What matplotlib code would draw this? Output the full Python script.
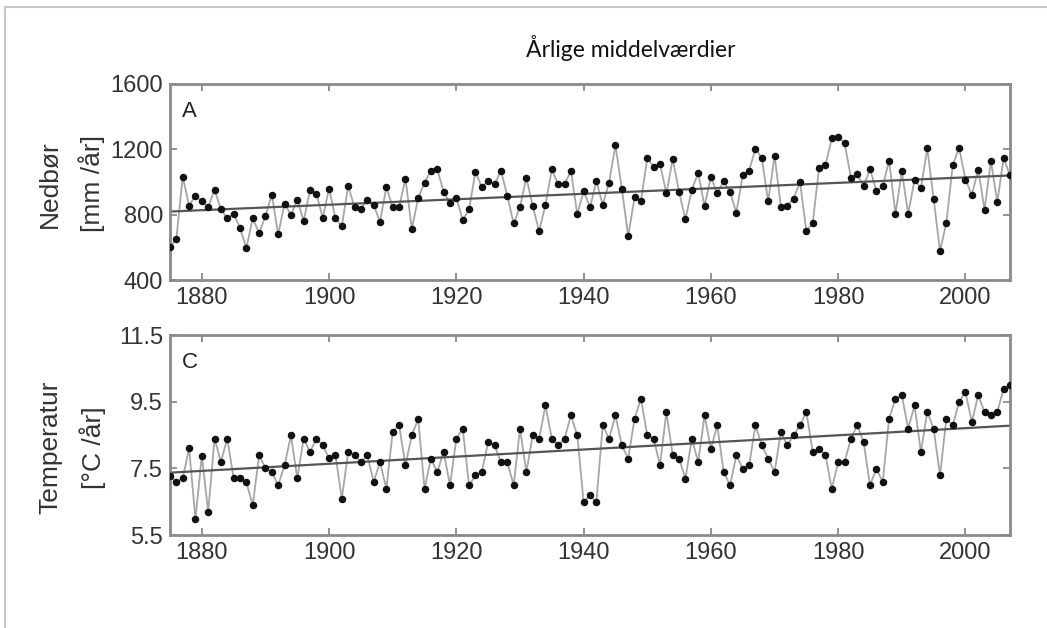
import numpy as np
import matplotlib
matplotlib.use("Agg")
import matplotlib.pyplot as plt
from matplotlib.lines import Line2D

years = list(range(1875, 2008))

precip = [
    600, 652, 1033, 856, 917, 881, 846, 952, 833, 777,
    804, 721, 596, 777, 687, 792, 923, 679, 867, 798,
    892, 762, 950, 929, 781, 960, 777, 731, 975, 846,
    835, 892, 860, 756, 969, 844, 844, 1021, 712, 902,
    996, 1069, 1077, 940, 869, 902, 767, 833, 1063, 969,
    1006, 985, 1069, 917, 746, 846, 1027, 854, 698, 860,
    1077, 985, 985, 1067, 804, 944, 844, 1006, 860, 996,
    1225, 960, 669, 906, 881, 1146, 1094, 1110, 931, 1140,
    938, 771, 954, 1054, 852, 1031, 931, 1006, 938, 813,
    1042, 1069, 1204, 1146, 881, 1162, 850, 856, 898, 1002,
    698, 750, 1085, 1102, 1267, 1273, 1240, 1027, 1048, 973,
    1081, 944, 973, 1131, 804, 1065, 804, 1015, 962, 1206,
    898, 577, 750, 1102, 1210, 1015, 921, 1075, 831, 1129,
    877, 1146, 1040,
]

temperature = [
    7.28, 7.08, 7.20, 8.10, 5.98, 7.88, 6.19, 8.39, 7.69, 8.39,
    7.20, 7.20, 7.09, 6.39, 7.89, 7.50, 7.39, 6.99, 7.59, 8.49,
    7.20, 8.39, 7.99, 8.39, 8.19, 7.80, 7.89, 6.59, 7.99, 7.89,
    7.69, 7.89, 7.09, 7.69, 6.89, 8.60, 8.80, 7.59, 8.50, 8.98,
    6.89, 7.79, 7.39, 7.99, 6.99, 8.39, 8.69, 6.99, 7.29, 7.39,
    8.29, 8.19, 7.69, 7.69, 6.99, 8.69, 7.39, 8.49, 8.39, 9.39,
    8.39, 8.19, 8.39, 9.09, 8.49, 6.49, 6.69, 6.49, 8.79, 8.39,
    9.09, 8.19, 7.79, 8.99, 9.59, 8.49, 8.39, 7.59, 9.19, 7.89,
    7.79, 7.19, 8.39, 7.69, 9.09, 8.09, 8.79, 7.39, 6.99, 7.89,
    7.49, 7.59, 8.79, 8.19, 7.79, 7.39, 8.59, 8.19, 8.49, 8.79,
    9.19, 7.99, 8.09, 7.89, 6.89, 7.69, 7.69, 8.39, 8.79, 8.29,
    6.99, 7.49, 7.09, 8.99, 9.59, 9.69, 8.69, 9.39, 7.99, 9.19,
    8.69, 7.29, 8.99, 8.79, 9.49, 9.79, 8.89, 9.69, 9.19, 9.09,
    9.19, 9.89, 9.99,
]

trend_years = [1875, 2007]
precip_trend = [819, 1040]
temp_trend = [7.37, 8.78]

x_ticks = [1880, 1900, 1920, 1940, 1960, 1980, 2000]
precip_ticks = [400, 800, 1200, 1600]
temp_ticks = [5.5, 7.5, 9.5, 11.5]
temp_ticklabels = ["5.5", "7.5", "9.5", "11.5"]

W, H = 1047, 628
fig = plt.figure(figsize=(W / 100, H / 100), dpi=100)
fig.patch.set_facecolor("white")

tick_font = "Liberation Sans"
frame_col = "#8a8a8a"
text_col = "#333333"


def px_axes(left, top, right, bottom):
    return fig.add_axes([left / W, 1 - bottom / H, (right - left) / W, (bottom - top) / H])


def style(ax, ylim, yticks, yticklabels, letter):
    ax.set_xlim(1875, 2007)
    ax.set_ylim(*ylim)
    ax.set_xticks(x_ticks)
    ax.set_yticks(yticks)
    ax.set_yticklabels(yticklabels)
    for s in ax.spines.values():
        s.set_color(frame_col)
        s.set_linewidth(2.0)
    ax.tick_params(direction="in", length=5, width=1.3, color=frame_col,
                   top=True, right=True, labelsize=17, labelcolor=text_col, pad=5)
    for lab in ax.get_xticklabels() + ax.get_yticklabels():
        lab.set_fontfamily(tick_font)
    ax.text(0.014, 0.86, letter, transform=ax.transAxes, fontsize=16,
            family=tick_font, color="#222222", va="center", ha="left")


def draw(ax, vals, trend):
    ax.plot(years, vals, color="#a6a6a6", lw=1.3, zorder=2)
    ax.plot(years, vals, ls="none", marker="o", ms=4.4, color="#111111", zorder=3)
    ax.plot(trend_years, trend, color="#555555", lw=1.6, zorder=2.5)


axA = px_axes(170, 84, 1010, 280)
draw(axA, precip, precip_trend)
style(axA, (400, 1600), precip_ticks, [str(v) for v in precip_ticks], "A")

axC = px_axes(170, 335, 1010, 535)
draw(axC, temperature, temp_trend)
style(axC, (5.5, 11.5), temp_ticks, temp_ticklabels, "C")

# Title
fig.text(631 / W, 1 - 48 / H, "Årlige middelværdier", ha="center", va="center",
         fontsize=16.5, family=["Lato", "DejaVu Sans"], color="#111111")

# Y labels
lab_kw = dict(rotation=90, ha="center", va="center", fontsize=19,
              family=tick_font, color=text_col)
fig.text(50 / W, 1 - 184 / H, "Nedbør", **lab_kw)
fig.text(92 / W, 1 - 183 / H, "[mm /år]", **lab_kw)
fig.text(50 / W, 1 - 447 / H, "Temperatur", **lab_kw)
fig.text(93 / W, 1 - 448 / H, "[°C /år]", **lab_kw)

# light frame of the slide (left and top edges)
fig.add_artist(Line2D([5 / W, 5 / W], [0, 1 - 7 / H], transform=fig.transFigure,
                      color="#c8c8c8", lw=1.5))
fig.add_artist(Line2D([5 / W, 1], [1 - 7 / H, 1 - 7 / H], transform=fig.transFigure,
                      color="#c8c8c8", lw=1.5))

fig.savefig("out.png", dpi=100, facecolor="white")
